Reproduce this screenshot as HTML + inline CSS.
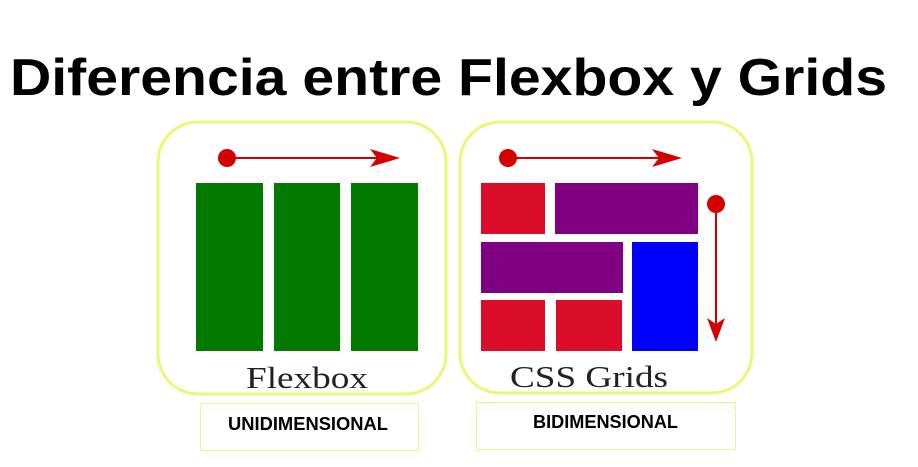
<!DOCTYPE html>
<html><head><meta charset="utf-8"><style>
html,body{margin:0;padding:0;background:#fff;}
svg{display:block;}
</style></head><body>
<svg width="918" height="467" viewBox="0 0 918 467" xmlns="http://www.w3.org/2000/svg">
<rect width="918" height="467" fill="#fff"/>
<text x="10" y="95" font-family="Liberation Sans, sans-serif" font-weight="bold" font-size="52" textLength="877" lengthAdjust="spacingAndGlyphs" fill="#000">Diferencia entre Flexbox y Grids</text>

<!-- left frame -->
<rect x="158" y="122" width="288" height="272" rx="40" fill="#fff" stroke="#eaf87a" stroke-width="3"/>
<circle cx="227" cy="158" r="9" fill="#d40000"/>
<line x1="227" y1="158" x2="385" y2="158" stroke="#d40000" stroke-width="2"/>
<polygon points="370,149 400,158 370,167 377,158" fill="#d40000"/>
<rect x="196" y="183" width="67" height="168" fill="#027a00"/>
<rect x="274" y="183" width="66" height="168" fill="#027a00"/>
<rect x="351" y="183" width="67" height="168" fill="#027a00"/>
<text x="246" y="388" font-family="Liberation Serif, serif" font-size="31" textLength="122" lengthAdjust="spacingAndGlyphs" fill="#222">Flexbox</text>

<!-- right frame -->
<rect x="460" y="122" width="292" height="271" rx="40" fill="#fff" stroke="#eaf87a" stroke-width="3"/>
<circle cx="508" cy="158" r="9" fill="#d40000"/>
<line x1="508" y1="158" x2="667" y2="158" stroke="#d40000" stroke-width="2"/>
<polygon points="652,149 682,158 652,167 659,158" fill="#d40000"/>
<rect x="481" y="183" width="64" height="51" fill="#dc0d2b"/>
<rect x="555" y="183" width="143" height="51" fill="#7f0080"/>
<rect x="481" y="242" width="142" height="51" fill="#7f0080"/>
<rect x="632" y="242" width="66" height="109" fill="#0000fd"/>
<rect x="481" y="300" width="64" height="51" fill="#dc0d2b"/>
<rect x="556" y="300" width="66" height="51" fill="#dc0d2b"/>
<circle cx="716" cy="204" r="9" fill="#d40000"/>
<line x1="716" y1="204" x2="716" y2="328" stroke="#d40000" stroke-width="2"/>
<polygon points="707,318 716,342 725,318 716,324" fill="#d40000"/>
<text x="510" y="387" font-family="Liberation Serif, serif" font-size="31" textLength="158" lengthAdjust="spacingAndGlyphs" fill="#222">CSS Grids</text>

<!-- labels -->
<rect x="200.5" y="403.5" width="218" height="47" fill="#fff" stroke="#eef58a" stroke-width="1"/>
<text x="228" y="430" font-family="Liberation Sans, sans-serif" font-weight="bold" font-size="18" textLength="160" lengthAdjust="spacingAndGlyphs" fill="#000">UNIDIMENSIONAL</text>
<rect x="476.5" y="402.5" width="259" height="47" fill="#fff" stroke="#eef58a" stroke-width="1"/>
<text x="533" y="428" font-family="Liberation Sans, sans-serif" font-weight="bold" font-size="18" textLength="145" lengthAdjust="spacingAndGlyphs" fill="#000">BIDIMENSIONAL</text>
</svg>
</body></html>
